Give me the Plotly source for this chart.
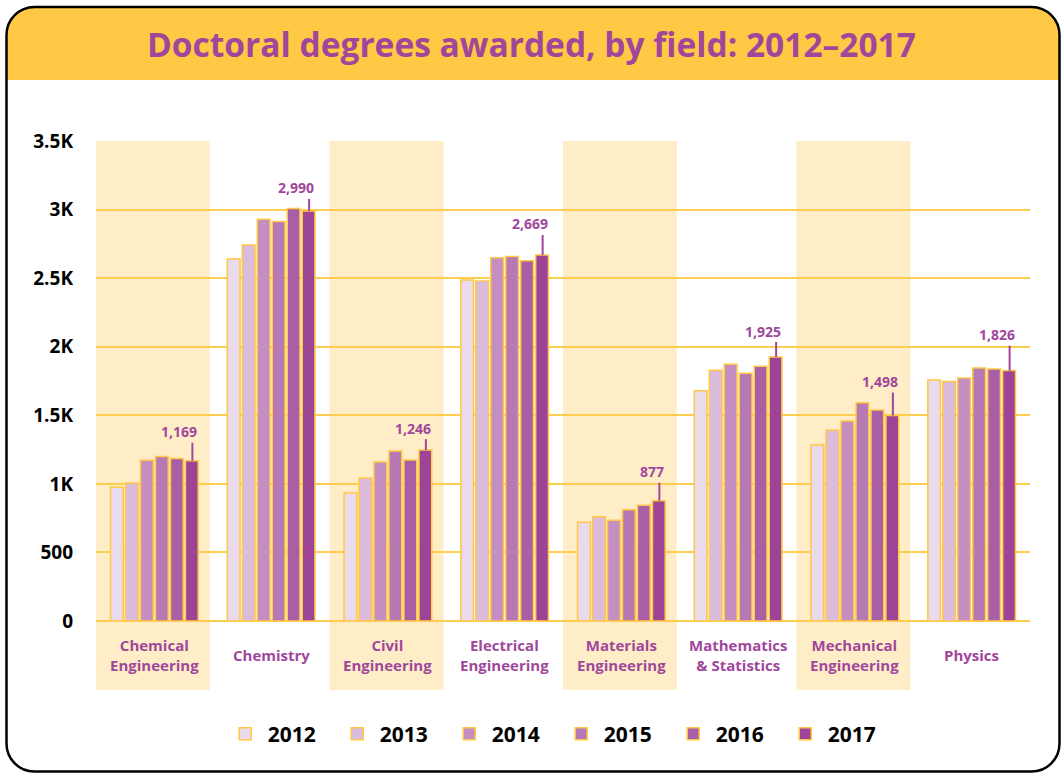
import plotly.graph_objects as go

# ---- data ----
categories = ["Chemical Engineering", "Chemistry", "Civil Engineering", "Electrical Engineering",
              "Materials Engineering", "Mathematics & Statistics", "Mechanical Engineering", "Physics"]
category_labels = ["Chemical<br>Engineering", "Chemistry", "Civil<br>Engineering", "Electrical<br>Engineering",
                   "Materials<br>Engineering", "Mathematics<br>& Statistics", "Mechanical<br>Engineering", "Physics"]
years = ["2012", "2013", "2014", "2015", "2016", "2017"]
v2012 = [975, 2640, 934, 2487, 720, 1678, 1284, 1758]
v2013 = [1006, 2742, 1043, 2480, 761, 1829, 1391, 1746]
v2014 = [1172, 2930, 1160, 2648, 734, 1872, 1459, 1772]
v2015 = [1199, 2913, 1240, 2657, 812, 1807, 1592, 1845]
v2016 = [1184, 3007, 1174, 2626, 844, 1858, 1539, 1838]
v2017 = [1169, 2990, 1246, 2669, 877, 1925, 1498, 1826]
series = [v2012, v2013, v2014, v2015, v2016, v2017]
y_tickvals = [0, 500, 1000, 1500, 2000, 2500, 3000, 3500]
y_ticktext = ["0", "500", "1K", "1.5K", "2K", "2.5K", "3K", "3.5K"]

# ---- style ----
colors = ["#E9DBEC", "#DBBCDC", "#C48EC1", "#B679B3", "#A95FA6", "#9E4496"]
callout_lift_px = [29, 23, 22, 31, 29, 26, 34, 36]   # height of each value label above its bar
PURPLE = "#A0479C"
YELLOW = "#FFC845"
BAND = "#FFEDC8"
GRID = "#FFCD4F"
FONT = "Open Sans"

W, H = 1063, 774
ML, MR, MT, MB = 96, 33, 141, 153
PW, PH = W - ML - MR, H - MT - MB


def px(x):
    return (x - ML) / PW


def py(y):
    return (H - MB - y) / PH


fig = go.Figure()
for yr, vals, c in zip(years, series, colors):
    fig.add_trace(go.Bar(
        name=yr, x=categories, y=vals,
        marker=dict(color=c, line=dict(color=YELLOW, width=1.5)),
        hoverinfo="x+y+name",
    ))

shapes = []
# alternating category bands
for i in range(0, len(categories), 2):
    shapes.append(dict(type="rect", xref="x", yref="paper", x0=i - 0.5, x1=i + 0.475,
                       y0=py(690), y1=1, fillcolor=BAND, line=dict(width=0), layer="below"))

# card header and border
L, R, T, B, HB, r = 6.5, 1059.5, 7, 771.5, 80, 28
k = 0.5523 * r


def P(x, y):
    return f"{px(x):.6f},{py(y):.6f}"


header = (f"M {P(L, HB)} L {P(L, T + r)} C {P(L, T + r - k)} {P(L + r - k, T)} {P(L + r, T)} "
          f"L {P(R - r, T)} C {P(R - r + k, T)} {P(R, T + r - k)} {P(R, T + r)} L {P(R, HB)} Z")
shapes.append(dict(type="path", xref="paper", yref="paper", path=header,
                   fillcolor=YELLOW, line=dict(width=0), layer="below"))
border = (f"M {P(L, T + r)} C {P(L, T + r - k)} {P(L + r - k, T)} {P(L + r, T)} "
          f"L {P(R - r, T)} C {P(R - r + k, T)} {P(R, T + r - k)} {P(R, T + r)} "
          f"L {P(R, B - r)} C {P(R, B - r + k)} {P(R - r + k, B)} {P(R - r, B)} "
          f"L {P(L + r, B)} C {P(L + r - k, B)} {P(L, B - r + k)} {P(L, B - r)} Z")
shapes.append(dict(type="path", xref="paper", yref="paper", path=border,
                   line=dict(color="black", width=2.5), layer="above"))

annotations = []
# category labels, vertically centred under the axis
for cat, lab in zip(categories, category_labels):
    annotations.append(dict(x=cat, y=0, xref="x", yref="y", text=lab, showarrow=False,
                            xanchor="center", yanchor="middle", yshift=-34, align="center",
                            font=dict(family=FONT, size=15, color=PURPLE, weight="bold")))

# 2017 value callouts
for i, (v, lift) in enumerate(zip(v2017, callout_lift_px)):
    shapes.append(dict(type="line", xref="x", yref="y", xsizemode="pixel", ysizemode="pixel",
                       xanchor=i, yanchor=v, x0=38, x1=38, y0=0, y1=lift - 11,
                       line=dict(color=PURPLE, width=2), layer="above"))
    annotations.append(dict(x=categories[i], y=v, xref="x", yref="y", text=f"{v:,}",
                            showarrow=False, xanchor="right", yanchor="middle",
                            xshift=45, yshift=lift,
                            font=dict(family=FONT, size=14, color=PURPLE, weight="bold")))

fig.update_layout(
    width=W, height=H,
    margin=dict(l=ML, r=MR, t=MT, b=MB),
    paper_bgcolor="white", plot_bgcolor="rgba(0,0,0,0)",
    barmode="group", bargap=0.23, bargroupgap=0.15,
    title=dict(text="Doctoral degrees awarded, by field: 2012–2017",
               x=0.5, xref="container", xanchor="center",
               y=1 - 45 / H, yref="container", yanchor="middle",
               font=dict(family=FONT, size=33.5, color=PURPLE, weight="bold")),
    xaxis=dict(categoryorder="array", categoryarray=categories, showticklabels=False,
               showgrid=False, showline=False, ticks="", fixedrange=True),
    yaxis=dict(range=[0, 3500], tickmode="array", tickvals=y_tickvals, ticktext=y_ticktext,
               tickfont=dict(family=FONT, size=19, color="black", weight="bold"),
               showgrid=True, gridcolor=GRID, gridwidth=1.5,
               zeroline=True, zerolinecolor=GRID, zerolinewidth=1.5,
               showline=False, ticks="", ticklabelstandoff=22, fixedrange=True),
    legend=dict(orientation="h", x=0.4954, xanchor="center", y=py(734), yanchor="middle",
                font=dict(family=FONT, size=21, color="black", weight="bold"),
                entrywidth=62, entrywidthmode="pixels", itemwidth=35,
                bgcolor="rgba(0,0,0,0)", traceorder="normal"),
    shapes=shapes,
    annotations=annotations,
    showlegend=True,
)

fig.write_html("out.html", config={"displayModeBar": False},
               post_script="document.body.style.margin='0';document.body.style.overflow='hidden';")
